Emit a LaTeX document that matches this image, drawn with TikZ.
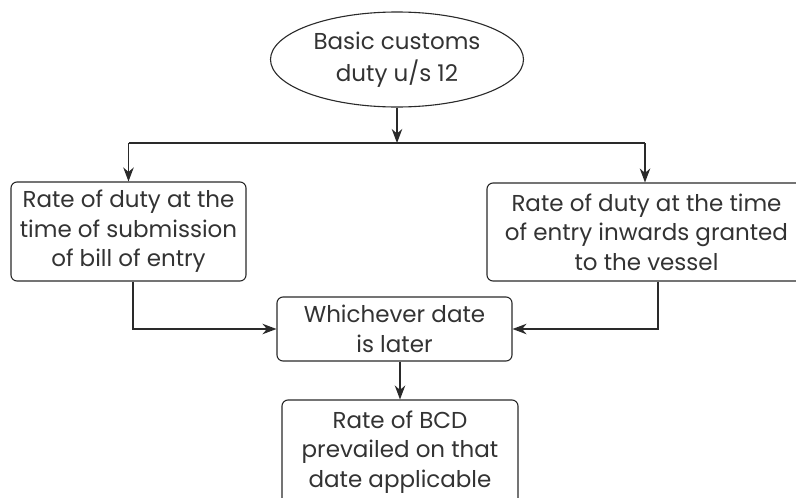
\documentclass[tikz,border=0pt]{standalone}
\usepackage{fontspec}
\setmainfont{Poppins}
\usetikzlibrary{shapes.geometric,arrows.meta}
\definecolor{ink}{HTML}{2A2A2A}
\definecolor{txt}{HTML}{333333}
\tikzset{
  every node/.style={text=txt, font=\fontsize{23}{29.5}\selectfont},
  boxnode/.style={draw=ink, line width=1.1pt, rounded corners=6pt, align=center, inner sep=0pt},
  arr/.style={draw=ink, line width=1.1pt, -{Stealth[length=14pt,width=10.5pt,inset=4.5pt]}},
  ln/.style={draw=ink, line width=1.1pt}
}
\begin{document}
\begin{tikzpicture}
\clip (0pt,0pt) rectangle (796pt,-498pt);
\fill[white] (0pt,0pt) rectangle (796pt,-498pt);
\node[ellipse, draw=ink, line width=1.1pt, minimum width=253pt, minimum height=95pt, inner sep=0pt, align=center, font=\fontsize{23}{32}\selectfont] (top) at (397pt,-59.5pt) {Basic customs\\duty u/s 12};
\node[boxnode, minimum width=235pt, minimum height=99pt] (l) at (128.5pt,-231.5pt) {Rate of duty at the\\time of submission\\of bill of entry};
\node[boxnode, minimum width=319pt, minimum height=98pt] (r) at (646.5pt,-232pt) {Rate of duty at the time\\of entry inwards granted\\to the vessel};
\node[boxnode, minimum width=235pt, minimum height=64pt] (m) at (394.5pt,-329pt) {Whichever date\\is later};
\node[boxnode, minimum width=236pt, minimum height=104pt] (b) at (400pt,-452pt) {Rate of BCD\\prevailed on that\\date applicable};
\coordinate (j) at (397pt,-143pt);
\coordinate (jl) at (128.5pt,-143pt);
\coordinate (jr) at (645pt,-143pt);
\draw[arr] (top.south) -- (j);
\draw[ln] (jl) -- (jr);
\draw[arr] (jl) -- (l.north);
\draw[arr] (jr) -- (jr |- r.north);
\draw[arr] ([xshift=4.5pt]l.south) |- (m.west);
\draw[arr] ([xshift=11.5pt]r.south) |- (m.east);
\draw[arr] (b.north |- m.south) -- (b.north);
\end{tikzpicture}
\end{document}
